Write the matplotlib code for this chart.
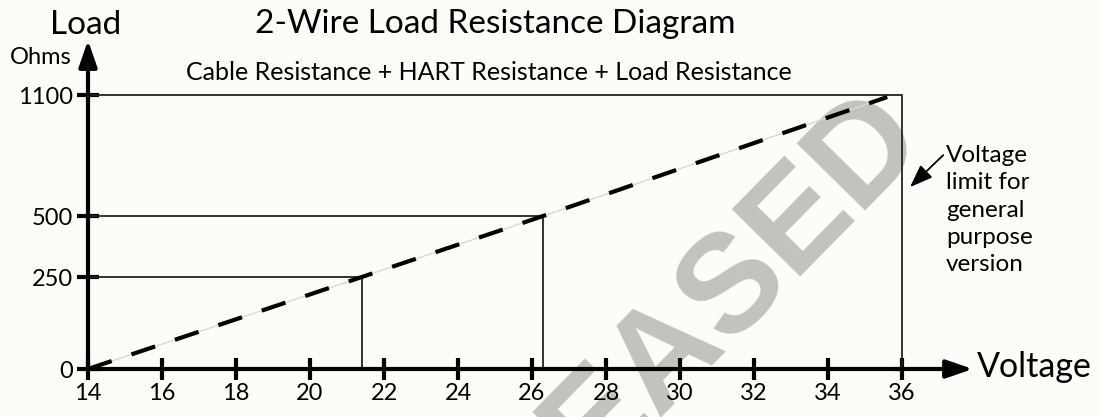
import numpy as np
import matplotlib
matplotlib.use('Agg')
import matplotlib.pyplot as plt

plt.rcParams['font.family'] = ['Lato', 'DejaVu Sans']

# data
voltage_ticks = [14, 16, 18, 20, 22, 24, 26, 28, 30, 32, 34, 36]
load_ticks = [0, 250, 500, 1100]
# pixel heights of the load ticks above the zero line (axis is not linear)
load_pos = [0, 92, 153, 274]

line_volt = [14, 21.4, 26.3, 35.6]
line_load = [0, 250, 500, 1090]

# limit boxes: (voltage, load)
boxes = [(21.4, 250), (26.3, 500), (36, 1100)]


def fwd(y):
    return np.interp(y, load_ticks, load_pos)


def inv(p):
    return np.interp(p, load_pos, load_ticks)


bg = '#fcfcf8'
fig = plt.figure(figsize=(10.99, 4.17), dpi=100, facecolor=bg)
W, H = 1099, 417
x0, x1 = 88, 902
y0, y1 = 369, 95
ax = fig.add_axes([x0 / W, 1 - y0 / H, (x1 - x0) / W, (y0 - y1) / H])
ax.patch.set_visible(False)

ax.set_yscale('function', functions=(fwd, inv))
ax.set_xlim(14, 36)
ax.set_ylim(0, 1100)

# boxes
for v, l in boxes:
    ax.plot([14, v, v], [l, l, 0], color='#222222', lw=1.3, zorder=2, clip_on=False)

# load line: thin grey under thick dashes
ax.plot(line_volt, line_load, color='#d8d8d8', lw=1.0, zorder=3)
ax.plot(line_volt, line_load, color='black', lw=3.0, dashes=(6, 5), zorder=4)

# axes
for s in ['top', 'right']:
    ax.spines[s].set_visible(False)
for s in ['left', 'bottom']:
    ax.spines[s].set_linewidth(3)
    ax.spines[s].set_zorder(5)
ax.set_xticks(voltage_ticks)
ax.set_yticks(load_ticks)
ax.set_xticklabels([str(v) for v in voltage_ticks])
ax.set_yticklabels([str(v) for v in load_ticks])
ax.tick_params(direction='inout', length=16, width=3, labelsize=17, colors='black')
ax.tick_params(axis='x', pad=2)
ax.tick_params(axis='y', pad=3)

# arrow heads
ax.annotate('', xy=(0, 1.20), xytext=(0, 0.98), xycoords='axes fraction',
            arrowprops=dict(arrowstyle='-|>,head_length=1.6,head_width=0.55',
                            color='black', lw=3, shrinkA=0, shrinkB=0), annotation_clip=False)
ax.annotate('', xy=(1.087, 0), xytext=(0.99, 0), xycoords='axes fraction',
            arrowprops=dict(arrowstyle='-|>,head_length=1.6,head_width=0.55',
                            color='black', lw=3, shrinkA=0, shrinkB=0), annotation_clip=False)

# labels
fig.text(86 / W, 1 - 25 / H, 'Load', fontsize=24, ha='center', va='center')
fig.text(41 / W, 1 - 58 / H, 'Ohms', fontsize=17, ha='center', va='center')
fig.text(495 / W, 1 - 24 / H, '2-Wire Load Resistance Diagram', fontsize=24, ha='center', va='center')
fig.text(489 / W, 1 - 72 / H, 'Cable Resistance + HART Resistance + Load Resistance',
         fontsize=18, ha='center', va='center')
fig.text(977 / W, 1 - 367 / H, 'Voltage', fontsize=24.5, ha='left', va='center')

ax.annotate('Voltage\nlimit for\ngeneral\npurpose\nversion',
            xy=(907 / W, 1 - 190 / H), xycoords='figure fraction',
            xytext=(946 / W, 1 - 145 / H), textcoords='figure fraction',
            fontsize=17.5, ha='left', va='top', linespacing=1.37,
            arrowprops=dict(arrowstyle='-|>,head_length=0.8,head_width=0.3',
                            color='black', lw=1.3, shrinkA=0, shrinkB=3,
                            relpos=(-0.02, 0.93)),
            annotation_clip=False)

# watermark
ax.text(760 / W, 1 - 309 / H, 'EASED', transform=fig.transFigure, fontsize=100,
        fontweight='bold', color='#c2c2be', rotation=45.5, ha='center', va='baseline',
        rotation_mode='anchor', zorder=0, clip_on=False,
        family='Liberation Sans')

plt.savefig('out.png', dpi=100, facecolor=bg)
